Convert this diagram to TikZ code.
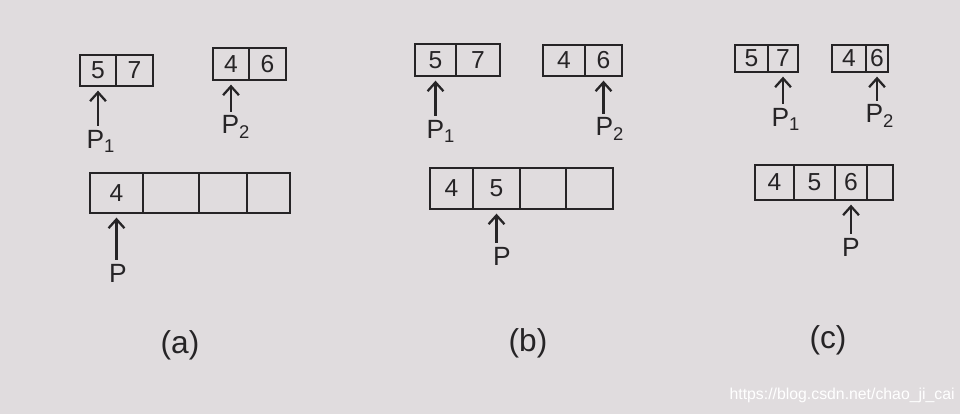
\documentclass[tikz,border=0pt]{standalone}
\usepackage{fontspec}
\setmainfont{Liberation Sans}
\usetikzlibrary{arrows.meta,calc}
\definecolor{paper}{RGB}{224,220,222}
\definecolor{ink}{RGB}{38,36,38}
\begin{document}
\begin{tikzpicture}[x=0.02cm,y=-0.02cm,
  cell/.style={draw=ink, line width=1.3pt, inner sep=0pt, font=\fontsize{14}{14}\selectfont, text=ink},
  ptr/.style={draw=ink, line width=1.3pt, {Straight Barb[length=5pt,width=9pt]}-, shorten <=2pt, shorten >=1pt},
  plabel/.style={font=\fontsize{15}{15}\selectfont, text=ink, inner sep=1pt},
  capt/.style={font=\fontsize{18}{18}\selectfont, text=ink},
  wm/.style={font=\fontsize{9}{9}\selectfont, text=white, inner sep=0pt}]
\fill[paper] (0,0) rectangle (960,414);
\useasboundingbox (0,0) rectangle (960,414);

% ---------- (a) ----------
\node[cell, minimum width=0.72cm, minimum height=0.62cm] (a11) at (98,70.5) {5};
\node[cell, minimum width=0.74cm, minimum height=0.62cm] (a12) at (134.5,70.5) {7};
\node[cell, minimum width=0.72cm, minimum height=0.64cm] (a21) at (231,64) {4};
\node[cell, minimum width=0.74cm, minimum height=0.64cm] (a22) at (267.5,64) {6};
\node[cell, minimum width=1.06cm, minimum height=0.80cm] (a31) at (116.5,193) {4};
\node[cell, minimum width=1.12cm, minimum height=0.80cm] (a32) at (171,193) {};
\node[cell, minimum width=0.96cm, minimum height=0.80cm] (a33) at (223,193) {};
\node[cell, minimum width=0.86cm, minimum height=0.80cm] (a34) at (268.5,193) {};
\node[plabel] (pa1) at (101,141) {P\textsubscript{1}};
\node[plabel] (pa2) at (236,127) {P\textsubscript{2}};
\node[plabel] (pa) at (118,273) {P};
\draw[ptr] (a11.south) -- (a11.south |- pa1.north);
\draw[ptr] (a21.south) -- (a21.south |- pa2.north);
\draw[ptr] (a31.south) -- (a31.south |- pa.north);
\node[capt] (capa) at (180,345) {(a)};

% ---------- (b) ----------
\node[cell, minimum width=0.82cm, minimum height=0.64cm] (b11) at (435.5,60) {5};
\node[cell, minimum width=0.88cm, minimum height=0.64cm] (b12) at (478,60) {7};
\node[cell, minimum width=0.84cm, minimum height=0.62cm] (b21) at (564,60.5) {4};
\node[cell, minimum width=0.74cm, minimum height=0.62cm] (b22) at (603.5,60.5) {6};
\node[cell, minimum width=0.86cm, minimum height=0.82cm] (b31) at (451.5,188.5) {4};
\node[cell, minimum width=0.94cm, minimum height=0.82cm] (b32) at (496.5,188.5) {5};
\node[cell, minimum width=0.92cm, minimum height=0.82cm] (b33) at (543,188.5) {};
\node[cell, minimum width=0.94cm, minimum height=0.82cm] (b34) at (589.5,188.5) {};
\node[plabel] (pb1) at (441,131) {P\textsubscript{1}};
\node[plabel] (pb2) at (610,129) {P\textsubscript{2}};
\node[plabel] (pb) at (502,256) {P};
\draw[ptr] (b11.south) -- (b11.south |- pb1.north);
\draw[ptr] (b22.south) -- (b22.south |- pb2.north);
\draw[ptr] (b32.south) -- (b32.south |- pb.north);
\node[capt] (capb) at (528,343) {(b)};

% ---------- (c) ----------
\node[cell, minimum width=0.66cm, minimum height=0.54cm] (c11) at (751.5,58.5) {5};
\node[cell, minimum width=0.60cm, minimum height=0.54cm] (c12) at (783,58.5) {7};
\node[cell, minimum width=0.68cm, minimum height=0.54cm] (c21) at (849,58.5) {4};
\node[cell, minimum width=0.44cm, minimum height=0.54cm] (c22) at (877,58.5) {6};
\node[cell, minimum width=0.78cm, minimum height=0.70cm] (c31) at (774.5,182.5) {4};
\node[cell, minimum width=0.82cm, minimum height=0.70cm] (c32) at (814.5,182.5) {5};
\node[cell, minimum width=0.64cm, minimum height=0.70cm] (c33) at (851,182.5) {6};
\node[cell, minimum width=0.52cm, minimum height=0.70cm] (c34) at (880,182.5) {};
\node[plabel] (pc1) at (786,119) {P\textsubscript{1}};
\node[plabel] (pc2) at (880,116) {P\textsubscript{2}};
\node[plabel] (pc) at (851,247) {P};
\draw[ptr] (c12.south) -- (c12.south |- pc1.north);
\draw[ptr] (c22.south) -- (c22.south |- pc2.north);
\draw[ptr] (c33.south) -- (c33.south |- pc.north);
\node[capt] (capc) at (828,340) {(c)};

\node[wm, anchor=east] (wmark) at (955,395) {https://blog.csdn.net/chao\_ji\_cai};
\end{tikzpicture}
\end{document}
